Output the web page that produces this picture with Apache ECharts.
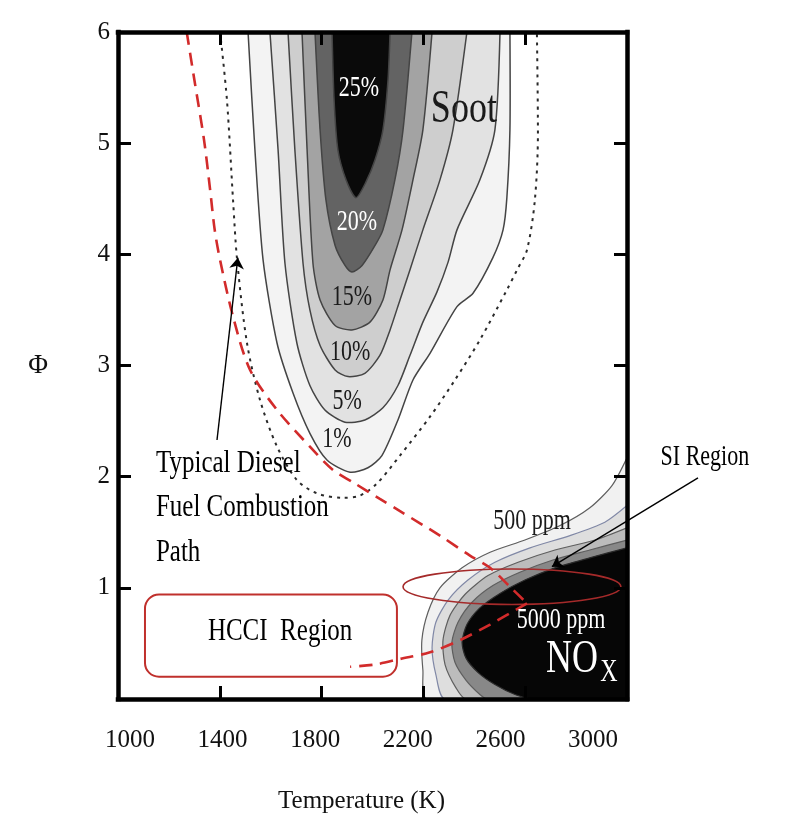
<!DOCTYPE html>
<html>
<head>
<meta charset="utf-8">
<title>Soot and NOx regions in the T-Φ plane</title>
<script src="https://cdn.jsdelivr.net/npm/echarts@6/dist/echarts.min.js"></script>
<style>
  html, body { margin: 0; padding: 0; background: #fff; }
  #chart { width: 789px; height: 821px; }
</style>
</head>
<body>
<div id="chart"></div>
<script>
const FONT = "'Liberation Serif', 'DejaVu Serif', serif"

// tick labels
const xTickLabels = ['1000', '1400', '1800', '2200', '2600', '3000']
const yTickLabels = ['', '1', '2', '3', '4', '5', '6']

// soot contours [T (K), phi] (U shapes open at phi = 6)
const sootDotted = [[1401, 6.0], [1428, 5.39], [1452, 4.49], [1468, 3.95], [1507, 3.20], [1558, 2.69], [1625, 2.27], [1703, 1.97], [1782, 1.85], [1884, 1.81], [1951, 1.83], [2018, 1.94], [2108, 2.19], [2226, 2.54], [2324, 2.87], [2422, 3.23], [2528, 3.68], [2568, 3.86], [2607, 4.04], [2638, 4.49], [2650, 5.09], [2646, 6.0]]
const soot1 = [[1511, 6.0], [1538, 4.94], [1570, 3.95], [1625, 3.20], [1688, 2.75], [1754, 2.39], [1821, 2.15], [1912, 2.04], [1982, 2.08], [2037, 2.19], [2100, 2.51], [2159, 2.87], [2226, 3.11], [2332, 3.53], [2395, 3.65], [2473, 3.97], [2513, 4.22], [2528, 4.51], [2540, 5.12], [2540, 6.0]]
const soot5 = [[1597, 6.0], [1629, 4.94], [1656, 3.92], [1703, 3.20], [1754, 2.82], [1813, 2.60], [1892, 2.49], [1970, 2.51], [2041, 2.62], [2100, 2.82], [2147, 3.09], [2198, 3.39], [2253, 3.66], [2297, 3.93], [2332, 4.22], [2422, 4.67], [2481, 5.12], [2501, 6.0]]
const soot10 = [[1668, 6.0], [1695, 4.94], [1727, 3.92], [1754, 3.50], [1794, 3.18], [1853, 2.96], [1904, 2.90], [1970, 2.93], [2029, 3.09], [2069, 3.32], [2108, 3.59], [2147, 3.86], [2198, 4.22], [2265, 4.67], [2316, 5.12], [2371, 6.0]]
const soot15 = [[1723, 6.0], [1743, 4.94], [1766, 3.92], [1794, 3.59], [1853, 3.36], [1919, 3.32], [1990, 3.39], [2041, 3.59], [2069, 3.86], [2116, 4.22], [2159, 4.67], [2198, 5.12], [2234, 6.0]]
const soot20 = [[1774, 6.0], [1794, 5.12], [1817, 4.49], [1853, 4.08], [1892, 3.90], [1919, 3.84], [1959, 3.90], [2010, 4.08], [2041, 4.22], [2088, 4.67], [2120, 5.12], [2155, 6.0]]
const soot25 = [[1841, 6.0], [1849, 5.39], [1864, 4.94], [1896, 4.67], [1935, 4.51], [1974, 4.65], [2010, 4.85], [2041, 5.12], [2061, 5.57], [2069, 6.0]]

// NOx contours, outermost first; each closes along the right and bottom edges
const nox0 = [[3000, 2.17], [2941, 1.92], [2854, 1.72], [2737, 1.56], [2599, 1.43], [2462, 1.32], [2352, 1.18], [2265, 1.00], [2218, 0.78], [2194, 0.53], [2198, 0.26], [2214, 0], [3000, 0]]
const nox1 = [[3000, 1.74], [2913, 1.59], [2776, 1.47], [2619, 1.36], [2481, 1.23], [2375, 1.07], [2297, 0.89], [2249, 0.69], [2234, 0.46], [2249, 0.22], [2285, 0], [3000, 0]]
const nox2 = [[3000, 1.54], [2874, 1.43], [2717, 1.34], [2572, 1.23], [2454, 1.11], [2363, 0.94], [2304, 0.75], [2277, 0.53], [2285, 0.31], [2328, 0.10], [2367, 0], [3000, 0]]
const nox3 = [[3000, 1.43], [2854, 1.34], [2709, 1.25], [2579, 1.14], [2473, 1.02], [2391, 0.87], [2336, 0.69], [2312, 0.51], [2324, 0.33], [2367, 0.17], [2422, 0.04], [2450, 0], [3000, 0]]
const nox5000 = [[3000, 1.36], [2854, 1.27], [2717, 1.18], [2599, 1.07], [2501, 0.95], [2422, 0.82], [2371, 0.67], [2352, 0.51], [2367, 0.37], [2414, 0.24], [2481, 0.13], [2560, 0.04], [2627, 0], [3000, 0]]

// typical diesel combustion path
const dieselDown = [[1270, 6.0], [1300, 5.57], [1338, 5.03], [1362, 4.58], [1380, 4.22], [1401, 3.95], [1452, 3.44], [1519, 2.96], [1625, 2.60], [1754, 2.27], [1845, 2.06], [1923, 1.95], [2029, 1.80], [2108, 1.69], [2265, 1.47], [2383, 1.29], [2462, 1.18], [2540, 1.01], [2607, 0.86]]
const dieselBack = [[2607, 0.86], [2462, 0.67], [2344, 0.53], [2226, 0.42], [2108, 0.36], [2010, 0.31], [1912, 0.29]]

// regions
const siCenter = [2548, 1.01]
const siHalfSize = [428, 0.16]
const hcciBox = [[1106, 0.94], [2096, 0.20]]

// annotations [T, phi, text]
const sootWhiteLabels = [[1947, 5.49, '25%'], [1939, 4.29, '20%']]
const sootDarkLabels = [[1919, 3.61, '15%'], [1912, 3.12, '10%'], [1900, 2.68, '5%'], [1860, 2.33, '1%']]
const noxDarkLabels = [[2627, 1.60, '500 ppm']]
const noxWhiteLabels = [[2741, 0.71, '5000 ppm']]
const noxName = [[2784, 0.35, 'NO']]
const noxSub = [[2929, 0.24, 'X']]
const sootName = [[2359, 5.30, 'Soot']]
const hcciLabel = [[1637, 0.61, 'HCCI  Region']]
const dieselLabel = [[1149, 1.72, 'Typical Diesel\nFuel Combustion\nPath']]
const siLabel = [[3306, 2.17, 'SI Region']]
const arrows = [[[1389, 2.33], [1471, 3.97]], [[3279, 1.99], [2705, 1.19]]]

const chart = echarts.init(document.getElementById('chart'))

// filled contour band: a smoothed polyline, the fill closes it along the frame
const band = (pts, fill, stroke, width) => ({
  type: 'custom',
  data: pts,
  clip: true,
  silent: true,
  z: 2,
  renderItem: (params, api) => {
    if (params.dataIndex !== 0) return null
    return {
      type: 'polyline',
      shape: { points: pts.map((p) => api.coord(p)), smooth: 0.25 },
      style: { fill: fill, stroke: stroke, lineWidth: width },
    }
  },
})

// text drawn through the axes, stretched a little vertically like the original figure
const texts = (items, color, size, align, lineHeight) => ({
  type: 'custom',
  data: items.map((d) => [d[0], d[1]]),
  clip: false,
  silent: true,
  z: 6,
  renderItem: (params, api) => {
    const d = items[params.dataIndex]
    const p = api.coord([d[0], d[1]])
    return {
      type: 'text',
      x: p[0],
      y: p[1],
      scaleY: 1.3,
      style: {
        text: d[2],
        fill: color,
        fontSize: size,
        fontFamily: FONT,
        align: align || 'center',
        verticalAlign: 'middle',
        lineHeight: lineHeight || size,
      },
    }
  },
})

const sootLine = '#444'
const noxLine = '#5e5e5e'

const ticks = { show: true, inside: true, length: 13, lineStyle: { color: '#000', width: 3 } }
const frame = { show: true, onZero: false, lineStyle: { color: '#000', width: 4.5, cap: 'square' } }

const option = {
  backgroundColor: '#fff',
  animation: false,
  grid: [
    { left: 118, right: 162, top: 32, bottom: 122 },
    { left: 130, right: 196, top: 690, height: 10 },
  ],
  xAxis: [
    {
      type: 'value', gridIndex: 0, position: 'bottom', min: 1000, max: 3000, interval: 400, z: 10,
      axisLine: frame, axisTick: ticks, axisLabel: { show: false }, splitLine: { show: false },
    },
    {
      type: 'value', gridIndex: 0, position: 'top', min: 1000, max: 3000, interval: 400, z: 10,
      axisLine: frame, axisTick: ticks, axisLabel: { show: false }, splitLine: { show: false },
    },
    {
      type: 'category', gridIndex: 1, data: xTickLabels, boundaryGap: false,
      axisLine: { show: false }, axisTick: { show: false },
      axisLabel: { interval: 0, margin: 28, fontSize: 25, fontFamily: FONT, color: '#111' },
      name: 'Temperature (K)', nameLocation: 'middle', nameGap: 89,
      nameTextStyle: { fontSize: 25, fontFamily: FONT, color: '#111' },
    },
  ],
  yAxis: [
    {
      type: 'value', gridIndex: 0, position: 'left', min: 0, max: 6, interval: 1, z: 10,
      axisLine: frame, axisTick: ticks, splitLine: { show: false },
      axisLabel: { formatter: (v) => yTickLabels[v], margin: 8, fontSize: 25, fontFamily: FONT, color: '#111' },
      name: 'Φ', nameLocation: 'middle', nameGap: 70, nameRotate: 0,
      nameTextStyle: { fontSize: 27, fontFamily: FONT, color: '#111' },
    },
    {
      type: 'value', gridIndex: 0, position: 'right', min: 0, max: 6, interval: 1, z: 10,
      axisLine: frame, axisTick: ticks, axisLabel: { show: false }, splitLine: { show: false },
    },
    { type: 'value', gridIndex: 1, show: false },
  ],
  series: [
    band(soot1, '#f3f3f3', sootLine, 1.5),
    band(soot5, '#e2e2e2', sootLine, 1.5),
    band(soot10, '#cecece', sootLine, 1.5),
    band(soot15, '#a3a3a3', sootLine, 1.5),
    band(soot20, '#636363', sootLine, 1.5),
    band(soot25, '#0a0a0a', sootLine, 1.5),
    {
      type: 'line', data: sootDotted, smooth: 0.3, showSymbol: false, silent: true, z: 3,
      lineStyle: { color: '#2a2a2a', width: 2, type: [3, 5] },
    },
    band(nox0, '#f1f1f1', noxLine, 1.2),
    band(nox1, '#dedede', '#8088a6', 1.2),
    band(nox2, '#bcbcbc', noxLine, 1.2),
    band(nox3, '#888888', noxLine, 1.2),
    band(nox5000, '#060606', '#2a2a2a', 1.2),
    {
      type: 'line', data: dieselDown, smooth: 0.3, showSymbol: false, silent: true, z: 4,
      lineStyle: { color: '#d22b2b', width: 2.6, type: [13, 8] },
    },
    {
      type: 'line', data: dieselBack, smooth: 0.3, showSymbol: false, silent: true, z: 4,
      lineStyle: { color: '#d22b2b', width: 2.6, type: [13, 8] },
    },
    {
      type: 'custom', data: [siCenter], clip: false, silent: true, z: 4,
      renderItem: (params, api) => {
        const c = api.coord(siCenter)
        const s = api.size(siHalfSize)
        return {
          type: 'ellipse',
          shape: { cx: c[0], cy: c[1], rx: s[0], ry: s[1] },
          style: { fill: 'none', stroke: '#a52a2a', lineWidth: 1.6 },
        }
      },
    },
    {
      type: 'custom', data: hcciBox, clip: false, silent: true, z: 4,
      renderItem: (params, api) => {
        if (params.dataIndex !== 0) return null
        const a = api.coord(hcciBox[0])
        const b = api.coord(hcciBox[1])
        return {
          type: 'rect',
          shape: { x: a[0], y: a[1], width: b[0] - a[0], height: b[1] - a[1], r: 14 },
          style: { fill: 'none', stroke: '#c0302c', lineWidth: 2 },
        }
      },
    },
    {
      type: 'lines', coordinateSystem: 'cartesian2d', clip: false, silent: true, z: 5,
      symbol: ['none', 'arrow'], symbolSize: [0, 11],
      lineStyle: { color: '#000', width: 1.4, opacity: 1 },
      data: arrows.map((a) => ({ coords: a })),
    },
    texts(sootWhiteLabels, '#fff', 22),
    texts(sootDarkLabels, '#1a1a1a', 22),
    texts(sootName, '#1a1a1a', 36),
    texts(noxDarkLabels, '#1a1a1a', 22),
    texts(noxWhiteLabels, '#fff', 22),
    texts(noxName, '#fff', 36),
    texts(noxSub, '#fff', 24),
    texts(hcciLabel, '#000', 25),
    texts(dieselLabel, '#000', 25, 'left', 34),
    texts(siLabel, '#000', 22),
  ],
}

chart.setOption(option)
</script>
</body>
</html>
